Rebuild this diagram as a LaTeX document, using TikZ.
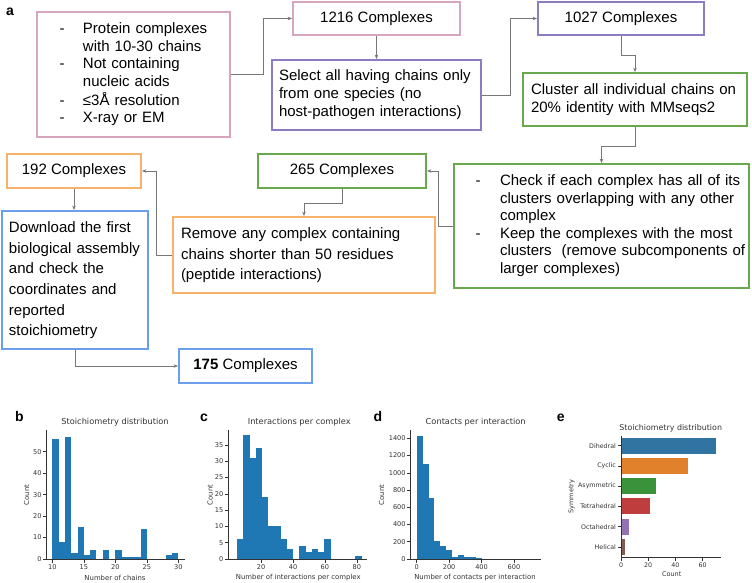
\documentclass[tikz,border=0pt]{standalone}
\usepackage{fontspec}
\setmainfont{Liberation Sans}
\newfontfamily\dejavu{DejaVu Sans}
\usetikzlibrary{arrows.meta,calc}
\definecolor{cpink}{HTML}{D5A6BD}
\definecolor{cpurple}{HTML}{8E7CC3}
\definecolor{cgreen}{HTML}{6AA84F}
\definecolor{corange}{HTML}{F6B26B}
\definecolor{cblue}{HTML}{6D9EEB}
\definecolor{connc}{HTML}{777777}
\definecolor{histc}{HTML}{1F77B4}
\definecolor{sDi}{HTML}{3274A1}
\definecolor{sCy}{HTML}{E1812C}
\definecolor{sAs}{HTML}{3A923A}
\definecolor{sTe}{HTML}{C03D3E}
\definecolor{sOc}{HTML}{9372B2}
\definecolor{sHe}{HTML}{845B53}
\definecolor{axc}{HTML}{333333}
\newcommand\cfont[1]{\dejavu\fontsize{#1}{#1}\selectfont}
\begin{document}
\begin{tikzpicture}[x=1pt,y=-1pt,
  box/.style={draw, line width=1.8pt, inner ysep=0pt, align=left},
  sbox/.style={draw, line width=1.8pt, inner sep=0pt, font=\fontsize{15}{18}\selectfont},
  conn/.style={draw=connc, line width=0.8pt, -{Stealth[length=4.5pt,width=3.5pt]}},
  spine/.style={draw=axc, line width=0.7pt},
  tck/.style={draw=axc, line width=0.6pt},
  ylab/.style={anchor=east, inner sep=0pt, xshift=-1.3pt, text=axc, font=\cfont{6.6}},
  xlab/.style={anchor=north, inner sep=0pt, yshift=-1.5pt, text=axc, font=\cfont{6.6}},
  alab/.style={inner sep=0pt, text=axc, font=\cfont{6.9}},
  ttl/.style={inner sep=0pt, text=axc, font=\cfont{8.25}},
  plab/.style={anchor=base west, inner sep=0pt, font=\fontsize{14}{14}\selectfont\bfseries}]
\useasboundingbox (0,0) rectangle (752,582);

% ---------------- flowchart ----------------
\node[plab] (la) at (6,15) {a};

\node[box, draw=cpink, text width=148pt, inner xsep=22.5pt, minimum height=125pt,
  font=\fontsize{15}{17.8}\selectfont] (B1) at (133.5,74.5)
  {\begin{tabular}{@{}l@{\hspace{18.5pt}}l@{}}
   - & Protein complexes\\
     & with 10-30 chains\\
   - & Not containing\\
     & nucleic acids\\
   - & ≤3Å resolution\\
   - & X-ray or EM
   \end{tabular}};

\node[sbox, draw=cpink, minimum width=167pt, minimum height=33pt] (B1216) at (376.5,18.5) {1216 Complexes};

\node[box, draw=cpurple, text width=195pt, inner xsep=7pt, minimum height=70pt,
  font=\fontsize{15}{18}\selectfont] (Bsel) at (376.5,95)
  {\begin{tabular}{@{}l@{}}
   Select all having chains only\\
   from one species (no\\
   host-pathogen interactions)
   \end{tabular}};

\node[sbox, draw=cpurple, minimum width=166pt, minimum height=33pt] (B1027) at (621,18.5) {1027 Complexes};

\node[box, draw=cgreen, text width=208pt, inner xsep=8pt, minimum height=53pt,
  font=\fontsize{15}{18}\selectfont] (Bclu) at (635,99.5)
  {\begin{tabular}{@{}l@{}}
   Cluster all individual chains on\\
   20\% identity with MMseqs2
   \end{tabular}};

\node[box, draw=cgreen, text width=252pt, inner xsep=21.5pt, minimum height=124pt,
  font=\fontsize{15}{17.6}\selectfont] (Bchk) at (601.5,226)
  {\begin{tabular}{@{}l@{\hspace{19.5pt}}l@{}}
   - & Check if each complex has all of its\\
     & clusters overlapping with any other\\
     & complex\\
   - & Keep the complexes with the most\\
     & clusters\ \ (remove subcomponents of\\
     & larger complexes)
   \end{tabular}};

\node[sbox, draw=cgreen, minimum width=168pt, minimum height=34pt] (B265) at (342,171) {265 Complexes};

\node[box, draw=corange, text width=246pt, inner xsep=8pt, minimum height=76pt,
  font=\fontsize{15}{20.3}\selectfont] (Brem) at (304,255)
  {\begin{tabular}{@{}l@{}}
   Remove any complex containing\\
   chains shorter than 50 residues\\
   (peptide interactions)
   \end{tabular}};

\node[sbox, draw=corange, minimum width=134pt, minimum height=34pt] (B192) at (74,171) {192 Complexes};

\node[box, draw=cblue, text width=132pt, inner xsep=7pt, minimum height=138pt,
  font=\fontsize{15}{20.6}\selectfont] (Bdl) at (75,280)
  {\begin{tabular}{@{}l@{}}
   Download the first\\
   biological assembly\\
   and check the\\
   coordinates and\\
   reported\\
   stoichiometry
   \end{tabular}};

\node[sbox, draw=cblue, minimum width=133pt, minimum height=34pt] (B175) at (245.5,366) {\textbf{175} Complexes};

% connectors
\draw[conn] (B1.east) -- ++(32,0) |- (B1216.west);
\draw[conn] (B1216.south) -- (Bsel.north);
\draw[conn] (Bsel.east) -- ++(28,0) |- (B1027.west);
\draw[conn] (B1027.south) -- ++(0,19) -| (Bclu.north);
\draw[conn] (Bclu.south) -- ++(0,19) -| (Bchk.north);
\draw[conn] (Bchk.west) -- ++(-15,0) |- (B265.east);
\draw[conn] (B265.south) -- ++(0,14) -| (Brem.north);
\draw[conn] (Brem.west) -- ++(-16,0) |- (B192.east);
\draw[conn] (B192.south) -- (B192.south |- Bdl.north);
\draw[conn] (Bdl.south) |- (B175.west);

% ---------------- panel b ----------------
\node[plab] (lb) at (15,421.7) {b};
\node[ttl] (tb) at (115,422) {Stoichiometry distribution};
\foreach \c [count=\i from 0] in {56,8,57,3,15,2,4,0,4,0,4,1,1,1,14,0,0,0,2,3}
  \fill[histc] ({52.3+\i*6.3},559) rectangle ({52.3+(\i+1)*6.3},{559-\c*2.147});
\draw[spine] (46.7,430) -- (46.7,559) -- (185,559);
\foreach \v in {0,10,...,50}
  \draw[tck] (46.7,{559-\v*2.147}) -- ++(-3.5,0) node[ylab] (by\v) {\v};
\foreach \v in {10,15,...,30}
  \draw[tck] ({52.3+(\v-10)*6.3},559) -- ++(0,3.5) node[xlab] (bx\v) {\v};
\node[alab, rotate=90] (byl) at (26.7,495) {Count};
\node[alab] (bxl) at (115,577.7) {Number of chains};

% ---------------- panel c ----------------
\node[plab] (lc) at (200,421.7) {c};
\node[ttl] (tc) at (299.3,422) {Interactions per complex};
\foreach \c [count=\i from 0] in {6,38,31,34,19,10,10,6,3,0,4,2,3,2,6,0,0,0,0,1}
  \fill[histc] ({237.2+\i*6.22},559) rectangle ({237.2+(\i+1)*6.22},{559-\c*3.257});
\draw[spine] (228.3,430) -- (228.3,559) -- (367,559);
\foreach \v in {0,5,...,35}
  \draw[tck] (228.3,{559-\v*3.257}) -- ++(-3.5,0) node[ylab] (cy\v) {\v};
\foreach \v in {20,40,60,80}
  \draw[tck] ({229.2+\v*1.595},559) -- ++(0,3.5) node[xlab] (cx\v) {\v};
\node[alab, rotate=90] (cyl) at (210,495) {Count};
\node[alab] (cxl) at (298.3,577.7) {Number of interactions per complex};

% ---------------- panel d ----------------
\node[plab] (ld) at (373.3,421.7) {d};
\node[ttl] (td) at (475.7,422) {Contacts per interaction};
\foreach \c [count=\i from 0] in {1430,1105,710,205,150,100,25,45,25,25,8,3,2,2,1,1,0,0,0,1}
  \fill[histc] ({416.67+\i*5.92},559) rectangle ({416.67+(\i+1)*5.92},{559-\c*0.0862});
\draw[spine] (410.7,430) -- (410.7,559) -- (541,559);
\foreach \v in {0,200,...,1400}
  \draw[tck] (410.7,{559-\v*0.0862}) -- ++(-3.5,0) node[ylab] (dy\v) {\v};
\foreach \v in {0,200,400,600}
  \draw[tck] ({416.67+\v*0.1622},559) -- ++(0,3.5) node[xlab] (dx\v) {\v};
\node[alab, rotate=90] (dyl) at (381.7,495) {Count};
\node[alab] (dxl) at (475,577.7) {Number of contacts per interaction};

% ---------------- panel e ----------------
\node[plab] (le) at (556.7,421.7) {e};
\node[ttl, font=\cfont{7.9}] (te) at (670.7,428.3) {Stoichiometry distribution};
\foreach \c/\col [count=\i from 0] in {70/sDi,49/sCy,26/sAs,21/sTe,6/sOc,3/sHe}
  \fill[\col] (621,{445.7+\i*20.26-8}) rectangle ({621+\c*1.361},{445.7+\i*20.26+8});
\draw[spine] (621,435.5) -- (621,557.7) -- (720.7,557.7);
\foreach \n [count=\i from 0] in {Dihedral,Cyclic,Asymmetric,Tetrahedral,Octahedral,Helical}
  \draw[tck] (621,{445.7+\i*20.26}) -- ++(-3.5,0) node[ylab, font=\cfont{6.3}] (ey\i) {\n};
\foreach \v in {0,20,40,60}
  \draw[tck] ({621+\v*1.361},557.7) -- ++(0,3.5) node[xlab, font=\cfont{6.3}] (ex\v) {\v};
\node[alab, rotate=90, font=\cfont{6.5}] (eyl) at (571.7,496.7) {Symmetry};
\node[alab, font=\cfont{6.5}] (exl) at (671.7,574.3) {Count};
\end{tikzpicture}
\end{document}
